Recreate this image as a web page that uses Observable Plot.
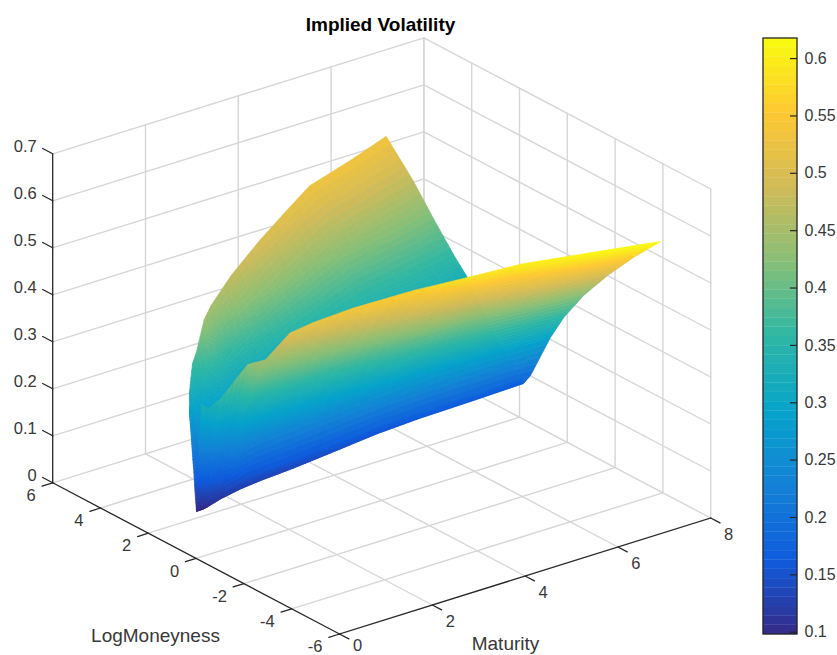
<!DOCTYPE html>
<html>
<head>
<meta charset="utf-8">
<script src="https://cdn.jsdelivr.net/npm/d3@7"></script>
<script src="https://cdn.jsdelivr.net/npm/@observablehq/plot@0.6"></script>
<style>
html,body{margin:0;padding:0;background:#fff}
#chart{position:relative;width:837px;height:655px;overflow:hidden}
#chart svg{position:absolute;left:0;top:0;background:transparent}
</style>
</head>
<body>
<div id="chart"></div>
<script>
// ---- values ----
const maturityTicks = [0, 2, 4, 6, 8];
const moneynessTicks = [-6, -4, -2, 0, 2, 4, 6];
const volTicks = [0, 0.1, 0.2, 0.3, 0.4, 0.5, 0.6, 0.7];
const colorbarTicks = [0.1, 0.15, 0.2, 0.25, 0.3, 0.35, 0.4, 0.45, 0.5, 0.55, 0.6];
const colorLimits = [0.098, 0.6175];

const maturities = [0.05, 0.15, 0.22, 0.49, 0.6, 0.9, 1.3, 2, 3, 3.8, 4.7, 5.8, 6.95];
const valleyMoneyness = [0.08, 0, -0.03, -0.1, -0.12, -0.15, -0.17, -0.18, -0.19, -0.19, -0.2, -0.2, -0.2];
const lowEdgeMoneyness = [-0.13, -0.21, -0.61, -1.21, -1.73, -2.18, -2.37, -2.67, -3.27, -3.93, -4.5, -5.3, -5.94];
const highEdgeMoneyness = [0.38, 0.55, 0.7, 1.1, 1.15, 1.41, 1.89, 2.4, 3.14, 3.74, 4.38, 4.87, 5.54];
const lowWingFractions = [0, 0.052, 0.197, 0.293, 0.439, 0.613, 0.803, 1];
const highWingFractions = [0, 0.2, 0.408, 0.509, 0.655, 0.801, 1];
const lowWingVol = [
  [0.096, 0.109, 0.162, 0.191, 0.229, 0.262, 0.297, 0.33],
  [0.1, 0.112, 0.162, 0.189, 0.225, 0.256, 0.289, 0.32],
  [0.103, 0.117, 0.172, 0.203, 0.243, 0.279, 0.315, 0.35],
  [0.115, 0.132, 0.204, 0.243, 0.294, 0.339, 0.386, 0.43],
  [0.118, 0.136, 0.211, 0.253, 0.307, 0.354, 0.404, 0.45],
  [0.125, 0.146, 0.233, 0.281, 0.344, 0.399, 0.456, 0.51],
  [0.13, 0.152, 0.241, 0.29, 0.354, 0.411, 0.47, 0.525],
  [0.135, 0.157, 0.249, 0.3, 0.366, 0.424, 0.485, 0.542],
  [0.145, 0.168, 0.263, 0.316, 0.384, 0.444, 0.506, 0.565],
  [0.153, 0.177, 0.274, 0.328, 0.398, 0.46, 0.525, 0.585],
  [0.158, 0.182, 0.283, 0.338, 0.41, 0.474, 0.54, 0.602],
  [0.16, 0.185, 0.288, 0.344, 0.416, 0.483, 0.55, 0.614],
  [0.163, 0.188, 0.291, 0.348, 0.418, 0.487, 0.555, 0.619]
];
const highWingVol = [
  [0.096, 0.133, 0.185, 0.203, 0.233, 0.264, 0.3],
  [0.1, 0.138, 0.192, 0.211, 0.241, 0.273, 0.31],
  [0.103, 0.144, 0.202, 0.223, 0.256, 0.29, 0.33],
  [0.115, 0.161, 0.227, 0.249, 0.286, 0.325, 0.37],
  [0.118, 0.167, 0.237, 0.261, 0.301, 0.342, 0.39],
  [0.125, 0.182, 0.264, 0.292, 0.338, 0.387, 0.442],
  [0.13, 0.187, 0.269, 0.298, 0.344, 0.392, 0.448],
  [0.135, 0.197, 0.285, 0.315, 0.365, 0.417, 0.477],
  [0.145, 0.209, 0.301, 0.333, 0.384, 0.439, 0.501],
  [0.153, 0.218, 0.311, 0.343, 0.396, 0.451, 0.514],
  [0.158, 0.225, 0.321, 0.354, 0.41, 0.465, 0.53],
  [0.16, 0.228, 0.324, 0.358, 0.412, 0.47, 0.535],
  [0.163, 0.23, 0.326, 0.359, 0.413, 0.47, 0.535]
];
const parula = ["#352a87", "#0f5cdd", "#1481d6", "#06a4ca", "#2eb7a4", "#87bf77", "#d1bb59", "#fec832", "#f9fb0e"];

// ---- the view of the 3-D box (orthographic, as in the original axes) ----
const sx = (m, k) => 339 + 46.4 * m - 23.9 * (k + 6);
const sy = (m, k, v) => 633.5 - 14.5 * m - 12.6 * (k + 6) - 470 * v;

const font = "'Liberation Sans', Helvetica, Arial, sans-serif";
const gridColor = "#d6d6d6";
const axisColor = "#262626";
const textColor = "#383838";

// ---- box: grid, axes, ticks ----
let sid = 0;
const seg = (list, a, b) => {
  sid++;
  list.push({id: sid, x: sx(a[0], a[1]), y: sy(a[0], a[1], a[2])});
  list.push({id: sid, x: sx(b[0], b[1]), y: sy(b[0], b[1], b[2])});
};
const [mMin, mMax] = d3.extent(maturityTicks);
const [kMin, kMax] = d3.extent(moneynessTicks);
const [vMin, vMax] = d3.extent(volTicks);
const grid = [];
for (const m of maturityTicks) {
  if (m > mMin) seg(grid, [m, kMin, vMin], [m, kMax, vMin]);
  if (m > mMin) seg(grid, [m, kMax, vMin], [m, kMax, vMax]);
}
for (const k of moneynessTicks) {
  if (k < kMax) seg(grid, [mMin, k, vMin], [mMax, k, vMin]);
  if (k < kMax) seg(grid, [mMax, k, vMin], [mMax, k, vMax]);
}
seg(grid, [mMin, kMax, vMin], [mMax, kMax, vMin]);
seg(grid, [mMax, kMax, vMin], [mMax, kMax, vMax]);
for (const v of volTicks) {
  if (v > vMin) {
    seg(grid, [mMin, kMax, v], [mMax, kMax, v]);
    seg(grid, [mMax, kMax, v], [mMax, kMin, v]);
  }
}
const axes = [];
seg(axes, [mMin, kMax, vMin], [mMin, kMax, vMax]);
seg(axes, [mMin, kMin, vMin], [mMin, kMax, vMin]);
seg(axes, [mMin, kMin, vMin], [mMax, kMin, vMin]);
for (const v of volTicks) seg(axes, [mMin, kMax, v], [mMin, kMax + 0.42, v]);
for (const k of moneynessTicks) seg(axes, [mMin, k, vMin], [mMin - 0.23, k, vMin]);
for (const m of maturityTicks) seg(axes, [m, kMin, vMin], [m, kMin - 0.39, vMin]);

// ---- surface: each grid cell is shaded smoothly, like MATLAB's "shading interp" ----
function shadeWing(fractions, edge, vols, farFirst) {
  const out = [];
  let id = 0;
  const nm = 4, nf = 6;
  const at = (i, j, s, t) => {
    const lerp = (a, b, u) => a + (b - a) * u;
    const m = lerp(maturities[i], maturities[i + 1], s);
    const f = lerp(fractions[j], fractions[j + 1], t);
    const k0 = valleyMoneyness[i] + f * (edge[i] - valleyMoneyness[i]);
    const k1 = valleyMoneyness[i + 1] + f * (edge[i + 1] - valleyMoneyness[i + 1]);
    const v0 = lerp(vols[i][j], vols[i][j + 1], t);
    const v1 = lerp(vols[i + 1][j], vols[i + 1][j + 1], t);
    return [m, lerp(k0, k1, s), lerp(v0, v1, s)];
  };
  const rows = d3.range(fractions.length - 1);
  if (farFirst) rows.reverse();
  for (let i = maturities.length - 2; i >= 0; i--) {
    for (const j of rows) {
      const ts = d3.range(nf);
      if (farFirst) ts.reverse();
      for (const a of ts) for (let b = nm - 1; b >= 0; b--) {
        const c = [
          at(i, j, b / nm, a / nf),
          at(i, j, (b + 1) / nm, a / nf),
          at(i, j, (b + 1) / nm, (a + 1) / nf),
          at(i, j, b / nm, (a + 1) / nf)
        ];
        const v = d3.mean(c, (d) => d[2]);
        id++;
        for (const p of [...c, c[0]]) out.push({id, x: sx(p[0], p[1]), y: sy(p[0], p[1], p[2]), v});
      }
    }
  }
  return out;
}
const highWing = shadeWing(highWingFractions, highEdgeMoneyness, highWingVol, true);
const lowWing = shadeWing(lowWingFractions, lowEdgeMoneyness, lowWingVol, false);

const colorScale = {type: "linear", domain: colorLimits, interpolate: d3.piecewise(d3.interpolateRgb, parula)};
const surfaceMark = (rows) => Plot.line(rows, {x: "x", y: "y", z: "id", fill: "v", stroke: "v", strokeWidth: 0.7, strokeLinecap: "butt"});

const tickLabels = (values, fx, fy, opts) =>
  Plot.text(values, {x: fx, y: fy, text: (d) => String(d), fontSize: 16.5, fill: textColor, fontFamily: font, ...opts});

const main = Plot.plot({
  width: 837, height: 655, margin: 0,
  x: {domain: [0, 837], range: [0, 837], axis: null},
  y: {domain: [0, 655], range: [0, 655], axis: null},
  color: colorScale,
  marks: [
    Plot.line(grid, {x: "x", y: "y", z: "id", stroke: gridColor, strokeWidth: 1.4}),
    surfaceMark(highWing),
    surfaceMark(lowWing),
    Plot.line(axes, {x: "x", y: "y", z: "id", stroke: axisColor, strokeWidth: 1.3}),
    tickLabels(volTicks, () => sx(mMin, kMax), (v) => sy(mMin, kMax, v), {textAnchor: "end", dx: -16, dy: -7.5}),
    tickLabels(moneynessTicks, (k) => sx(mMin, k), (k) => sy(mMin, k, vMin), {textAnchor: "end", dx: -17, dy: 13}),
    tickLabels(maturityTicks, (m) => sx(m, kMin), (m) => Math.min(sy(m, kMin, vMin) + 17, 645.5), {textAnchor: "middle", dx: 18}),
    Plot.text(["Implied Volatility"], {x: () => 380, y: () => 24, text: (d) => d, fontSize: 19, fontWeight: "bold", fill: "#000", fontFamily: font}),
    Plot.text(["LogMoneyness"], {x: () => 155, y: () => 635, text: (d) => d, fontSize: 19, fill: textColor, fontFamily: font}),
    Plot.text(["Maturity"], {x: () => 505, y: () => 643, text: (d) => d, fontSize: 19, fill: textColor, fontFamily: font})
  ]
});

// ---- colour bar, with its own value scale ----
const barLevels = d3.range(64).map((i) => ({
  y1: colorLimits[0] + (i / 64) * (colorLimits[1] - colorLimits[0]),
  y2: colorLimits[0] + ((i + 1) / 64) * (colorLimits[1] - colorLimits[0])
}));
const bar = Plot.plot({
  width: 837, height: 655, margin: 0,
  x: {domain: [763, 797], range: [763, 797], axis: null},
  y: {domain: colorLimits, range: [634, 38], axis: null},
  color: colorScale,
  marks: [
    Plot.rectY(barLevels, {x1: 763, x2: 797, y1: "y1", y2: "y2", fill: (d) => (d.y1 + d.y2) / 2, stroke: (d) => (d.y1 + d.y2) / 2, strokeWidth: 0.3}),
    Plot.ruleY(colorbarTicks, {x1: 790, x2: 797, stroke: axisColor, strokeWidth: 1.2}),
    Plot.rect([colorLimits], {x1: 763, x2: 797, y1: (d) => d[0], y2: (d) => d[1], fill: "none", stroke: axisColor, strokeWidth: 1.3}),
    Plot.text(colorbarTicks, {x: 797, y: (d) => d, text: (d) => String(d), textAnchor: "start", dx: 7, fontSize: 16, fill: textColor, fontFamily: font})
  ]
});

document.getElementById("chart").append(main, bar);
</script>
</body>
</html>
